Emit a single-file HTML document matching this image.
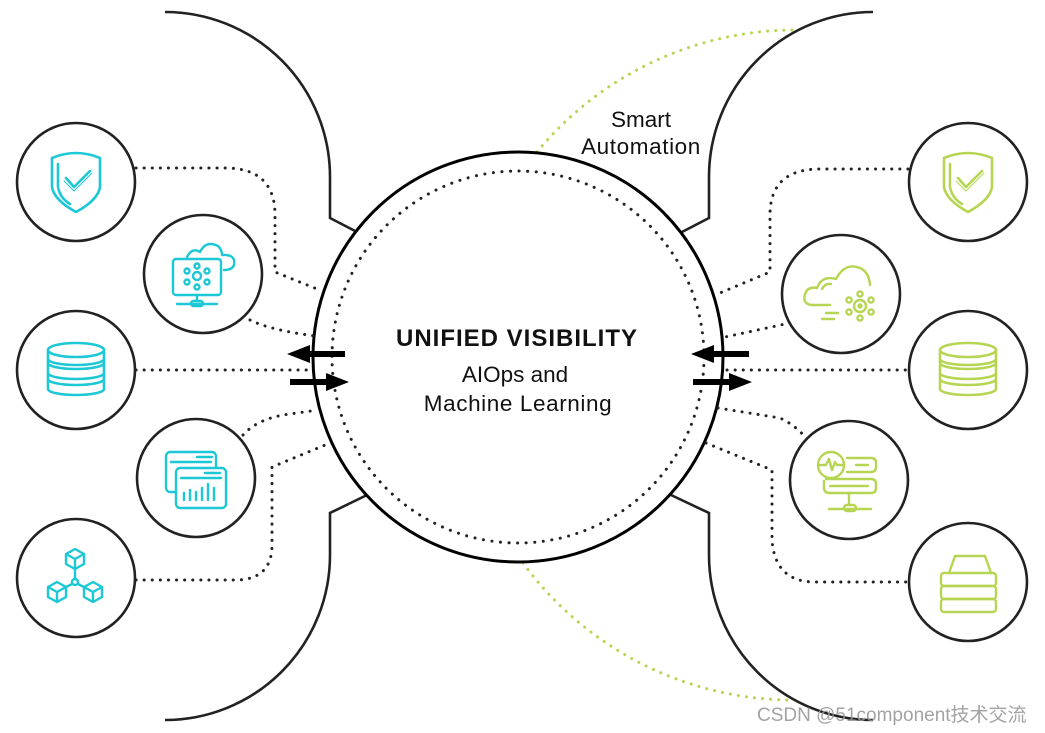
<!DOCTYPE html>
<html><head><meta charset="utf-8"><style>
html,body{margin:0;padding:0;background:#fff;}
svg{display:block;}
text{font-family:"Liberation Sans","Noto Sans CJK SC",sans-serif;}
</style></head><body>
<svg width="1045" height="733" viewBox="0 0 1045 733" xmlns="http://www.w3.org/2000/svg">
<defs>
<g id="shield" fill="none" stroke-width="2.6" stroke-linecap="round" stroke-linejoin="round">
 <path d="M-24,-24 Q0,-34 24,-24 L24,5 Q22,18 0,30 Q-22,18 -24,5 Z"/>
 <path d="M-18,-18 L-18,5 Q-16,16 -6,22"/>
 <path d="M-10,-4 L-2,5 L14,-11"/><path d="M-12,-1 L-2,9 L16,-9" stroke-width="1"/>
</g>
<g id="db" fill="none" stroke-width="2.6" stroke-linejoin="round">
 <ellipse cx="0" cy="-21" rx="28" ry="7"/>
 <path d="M-28,-21 L-28,-12 A28,6 0 0 0 28,-12 L28,-21"/>
 <path d="M-28,-8 A28,6 0 0 0 28,-8 L28,2 A28,6 0 0 1 -28,2 Z"/>
 <path d="M-28,8 A28,6 0 0 0 28,8 L28,18 A28,6 0 0 1 -28,18 Z"/>
 <path d="M-28,-12 L-28,-8 M28,-12 L28,-8 M-28,2 L-28,8 M28,2 L28,8"/>
</g>
</defs>

<g fill="none" stroke="#222" stroke-width="2.6">
 <path d="M165,12 A165,165 0 0 1 330,177 V218 L357,232"/>
 <path d="M165,720 A165,165 0 0 0 330,555 V513 L367,495"/>
 <path d="M873,12 A164,165 0 0 0 709,177 V218 L682,232"/>
 <path d="M873,720 A164,165 0 0 1 709,555 V513 L671,495"/>
</g>
<g fill="none" stroke="#b6d552" stroke-width="3" stroke-dasharray="0.1 8" stroke-linecap="round">
 <path d="M537,152 A335,335 0 0 1 797,30"/>
 <path d="M523,563 A335,335 0 0 0 790,700"/>
</g>
<circle cx="518" cy="357" r="205" fill="#fff" stroke="#000" stroke-width="3"/>
<circle cx="518" cy="357" r="186" fill="none" stroke="#222" stroke-width="3" stroke-dasharray="0.1 8.5" stroke-linecap="round"/>

<g fill="none" stroke="#222" stroke-width="3" stroke-dasharray="0.1 8" stroke-linecap="round">
 <path d="M136,168 H225 Q275,168 275,215 V272 L322,291"/>
 <path d="M250,320 Q270,330 315,336"/>
 <path d="M136,370 H313"/>
 <path d="M243,435 Q258,418 290,414 L318,410"/>
 <path d="M136,580 H235 Q272,580 272,545 V467 L330,443"/>
 <path d="M908,169 H820 Q770,169 770,215 V272 L715,295"/>
 <path d="M790,323 L725,337"/>
 <path d="M727,370 H908"/>
 <path d="M718,408 L780,418 Q795,425 805,437"/>
 <path d="M706,443 L772,470 V540 Q775,582 815,582 H908"/>
</g>

<g fill="#000">
 <path d="M345,351 H310 V345 L287,354 L310,363 V357 H345 Z"/>
 <path d="M290,379 H326 V373 L349,382 L326,391 V385 H290 Z"/>
 <path d="M749,351 H714 V345 L691,354 L714,363 V357 H749 Z"/>
 <path d="M693,379 H729 V373 L752,382 L729,391 V385 H693 Z"/>
</g>

<g fill="#fff" stroke="#222" stroke-width="2.6">
 <circle cx="76" cy="182" r="59"/>
 <circle cx="203" cy="274" r="59"/>
 <circle cx="76" cy="370" r="59"/>
 <circle cx="196" cy="478" r="59"/>
 <circle cx="76" cy="578" r="59"/>
 <circle cx="968" cy="182" r="59"/>
 <circle cx="841" cy="294" r="59"/>
 <circle cx="968" cy="370" r="59"/>
 <circle cx="849" cy="480" r="59"/>
 <circle cx="968" cy="582" r="59"/>
</g>

<use href="#shield" x="76" y="182" stroke="#1cc7d6"/>
<use href="#db" x="76" y="371" stroke="#1cc7d6"/>
<g fill="none" stroke="#1cc7d6" stroke-width="2.4" stroke-linecap="round" stroke-linejoin="round">
 <rect x="173" y="259" width="48" height="36" rx="3"/>
 <path d="M187,257 Q192,247 200,252 Q206,240 218,246 Q222,250 222,255 Q236,254 234,265 Q232,270 224,270"/>
 <circle cx="197" cy="276" r="4"/><circle cx="197" cy="266" r="2.5"/><circle cx="197" cy="287" r="2.5"/>
 <circle cx="187" cy="271" r="2.5"/><circle cx="207" cy="271" r="2.5"/><circle cx="187" cy="282" r="2.5"/><circle cx="207" cy="282" r="2.5"/>
 <path d="M197,295 V301 M177,304 H217"/><rect x="191" y="301" width="12" height="5" rx="2.5"/>
 <rect x="166" y="452" width="50" height="40" rx="4"/>
 <rect x="176" y="468" width="50" height="40" rx="4" fill="#fff"/>
 <path d="M171,462 H211 M181,478 H221 M197,457 H212 M205,473 H220"/>
 <path d="M184,500 V493 M190,500 V490 M196,500 V492 M202,500 V488 M208,500 V484 M214,500 V488"/>
 <path d="M75,549 L84,554 V564 L75,569 L66,564 V554 Z M66,554 L75,559 L84,554 M75,559 V569"/>
 <path d="M57,582 L66,587 V597 L57,602 L48,597 V587 Z M48,587 L57,592 L66,587 M57,592 V602"/>
 <path d="M93,582 L102,587 V597 L93,602 L84,597 V587 Z M84,587 L93,592 L102,587 M93,592 V602"/>
 <circle cx="75" cy="582" r="3"/><path d="M75,569 V579 M72,584 L66,587 M78,584 L84,587"/>
</g>

<use href="#shield" x="968" y="182" stroke="#b6d552"/>
<use href="#db" x="968" y="371" stroke="#b6d552"/>
<g fill="none" stroke="#b6d552" stroke-width="2.4" stroke-linecap="round" stroke-linejoin="round">
 <path d="M830,305 H812 Q802,304 805,294 Q808,286 817,288 Q822,275 836,279 Q845,262 860,268 Q869,272 870,285"/>
 <path d="M822,289 Q825,283 831,284"/>
 <path d="M826,313 H838 M822,319 H834"/>
 <circle cx="860" cy="306" r="6"/><circle cx="860" cy="306" r="1.5"/>
 <circle cx="860" cy="294" r="2.6"/><circle cx="860" cy="318" r="2.6"/><circle cx="849" cy="300" r="2.6"/><circle cx="871" cy="300" r="2.6"/><circle cx="849" cy="312" r="2.6"/><circle cx="871" cy="312" r="2.6"/>
 <circle cx="831" cy="465" r="13"/>
 <path d="M819,465 H826 L829,459 L832,470 L835,462 L837,465 H843"/>
 <path d="M847,458 H871 Q876,458 876,463 V467 Q876,472 871,472 H847"/>
 <path d="M826,479 H871 Q876,479 876,484 V488 Q876,493 871,493 H830 Q824,493 824,488 V481"/>
 <path d="M856,465 H868 M830,486 H868"/>
 <path d="M849,493 V504 M829,509 H871"/><rect x="844" y="505" width="12" height="6" rx="3"/>
 <path d="M949,573 L955,556 H985 L991,573"/>
 <rect x="941" y="573" width="55" height="13" rx="3"/>
 <rect x="941" y="586" width="55" height="13" rx="3"/>
 <rect x="941" y="599" width="55" height="13" rx="3"/>
</g>

<text x="517" y="346" text-anchor="middle" font-size="24" font-weight="bold" fill="#111" letter-spacing="1">UNIFIED VISIBILITY</text>
<text x="515" y="382" text-anchor="middle" font-size="22.5" fill="#111">AIOps and</text>
<text x="518" y="411" text-anchor="middle" font-size="22.5" fill="#111" letter-spacing="0.6">Machine Learning</text>
<text x="641" y="127" text-anchor="middle" font-size="22.5" fill="#111">Smart</text>
<text x="641" y="154" text-anchor="middle" font-size="22.5" fill="#111" letter-spacing="0.6">Automation</text>
<text x="757" y="721" font-size="19" fill="#999" opacity="0.9">CSDN @51component技术交流</text>
</svg>
</body></html>
